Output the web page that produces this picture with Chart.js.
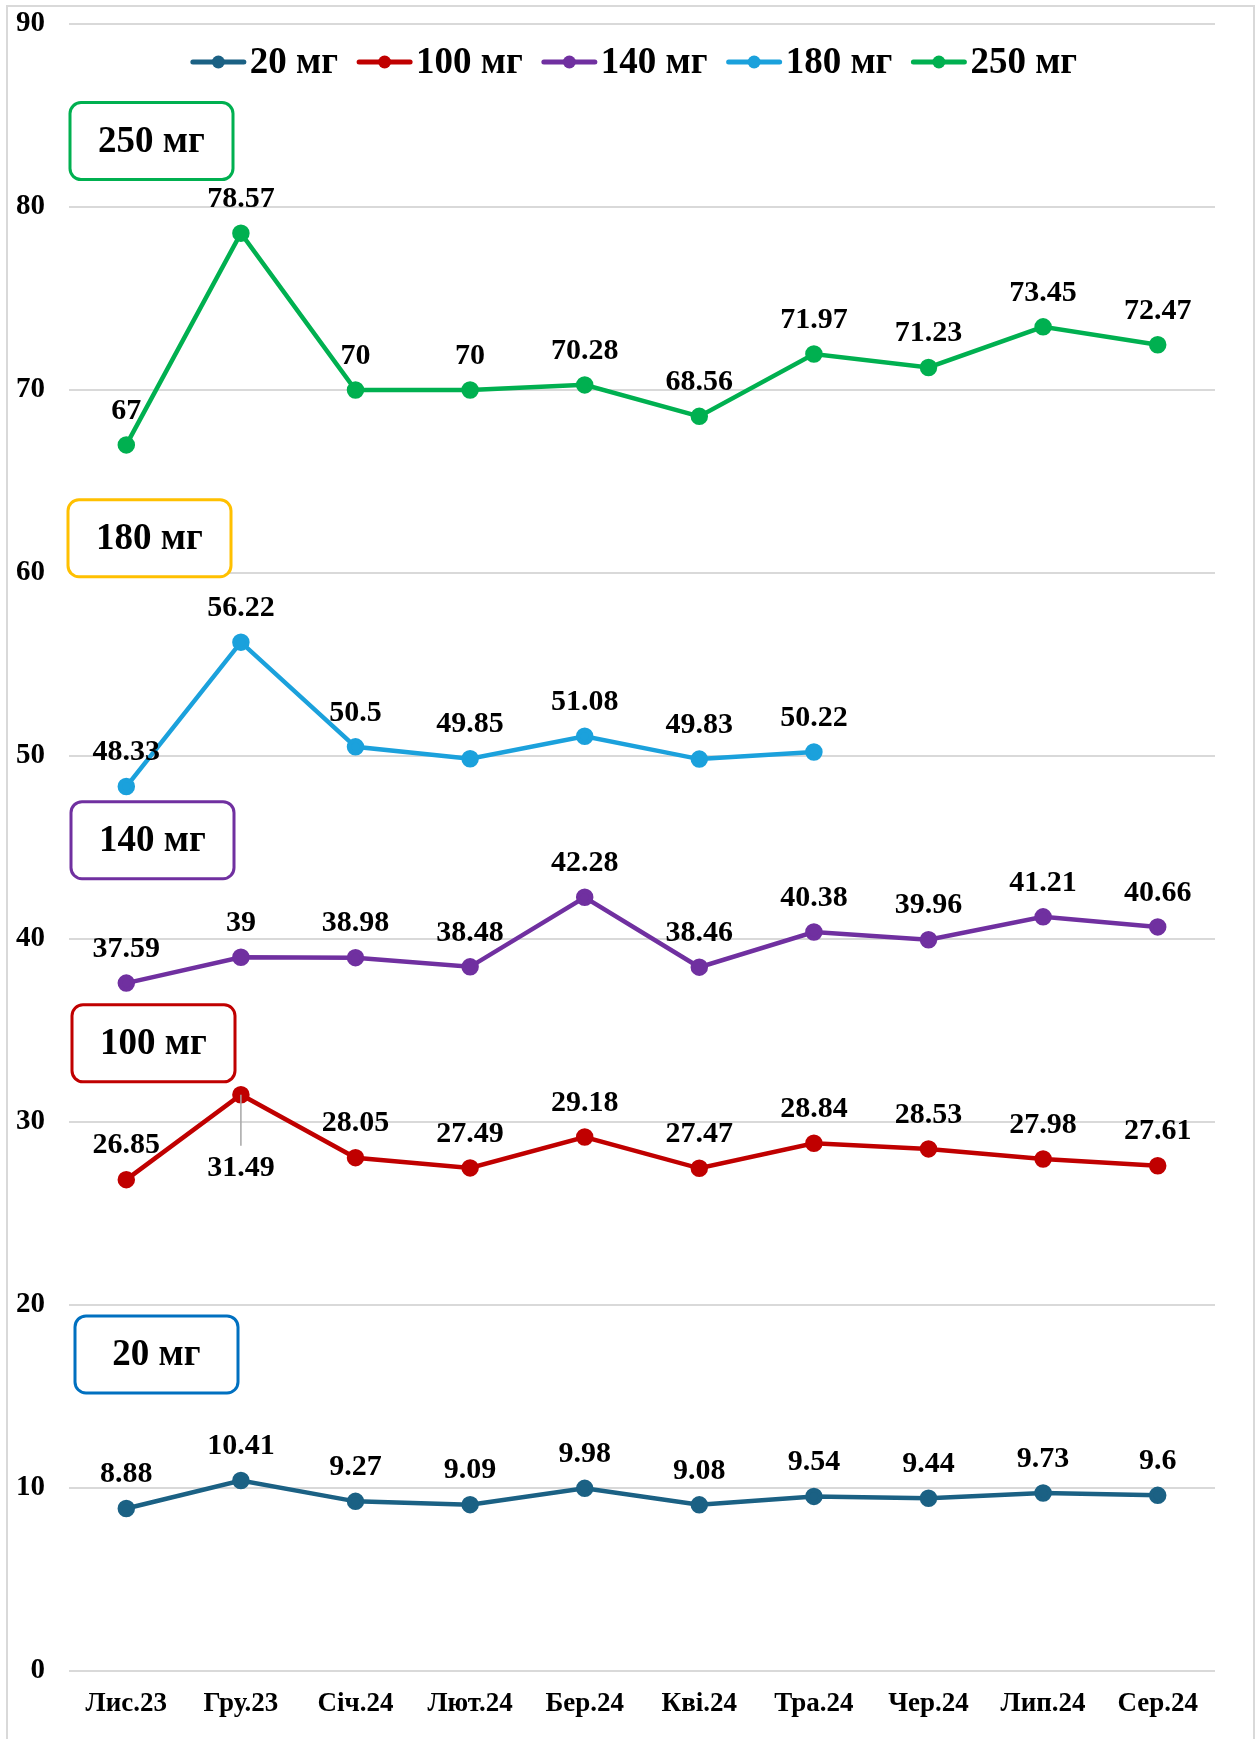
<!DOCTYPE html>
<html>
<head>
<meta charset="utf-8">
<script src="https://cdn.jsdelivr.net/npm/chart.js@4.4.1/dist/chart.umd.min.js"></script>
<style>
  html, body { margin: 0; padding: 0; background: #fff; }
  #wrap { position: relative; width: 1259px; height: 1739px; }
</style>
</head>
<body>
<div id="wrap"><canvas id="chart" width="1259" height="1739"></canvas></div>
<script>
// Дані
const months = ['Лис.23', 'Гру.23', 'Січ.24', 'Лют.24', 'Бер.24', 'Кві.24', 'Тра.24', 'Чер.24', 'Лип.24', 'Сер.24'];
const dose20  = [8.88, 10.41, 9.27, 9.09, 9.98, 9.08, 9.54, 9.44, 9.73, 9.6];
const dose100 = [26.85, 31.49, 28.05, 27.49, 29.18, 27.47, 28.84, 28.53, 27.98, 27.61];
const dose140 = [37.59, 39, 38.98, 38.48, 42.28, 38.46, 40.38, 39.96, 41.21, 40.66];
const dose180 = [48.33, 56.22, 50.5, 49.85, 51.08, 49.83, 50.22, null, null, null];
const dose250 = [67, 78.57, 70, 70, 70.28, 68.56, 71.97, 71.23, 73.45, 72.47];
const yTicks = [0, 10, 20, 30, 40, 50, 60, 70, 80, 90];

const FONT = '"Liberation Serif", "Times New Roman", serif';

// Підписи-рамки зліва (центр по осі Y у значеннях шкали)
const boxes = [
    { text: '250 мг', color: '#00B050', y: 83.6, dx: 0 },
    { text: '180 мг', color: '#FFC000', y: 61.9, dx: -2 },
    { text: '140 мг', color: '#7030A0', y: 45.4, dx: 1 },
    { text: '100 мг', color: '#C00000', y: 34.3, dx: 2 },
    { text: '20 мг',  color: '#0070C0', y: 17.3, dx: 5 }
];

// підписи, що стоять під точкою (з виносною лінією)
const labelsBelow = { '100 мг': [1] };

function series(label, data, color) {
    return {
        label: label,
        data: data,
        borderColor: color,
        backgroundColor: color,
        pointBackgroundColor: color,
        pointBorderColor: color,
        borderWidth: 4.5,
        pointRadius: 6.5,
        pointHoverRadius: 6.5,
        tension: 0,
        spanGaps: false
    };
}

const framePlugin = {
    id: 'frame',
    beforeDraw(chart) {
        const ctx = chart.ctx;
        ctx.save();
        ctx.strokeStyle = '#d9d9d9';
        ctx.lineWidth = 2;
        ctx.strokeRect(7, 6, 1247, 1780);
        ctx.restore();
    }
};

const valueLabels = {
    id: 'valueLabels',
    afterDatasetsDraw(chart) {
        const ctx = chart.ctx;
        ctx.save();
        ctx.font = 'bold 30px ' + FONT;
        ctx.fillStyle = '#000';
        ctx.textAlign = 'center';
        ctx.textBaseline = 'middle';
        chart.data.datasets.forEach((ds, di) => {
            const meta = chart.getDatasetMeta(di);
            const below = labelsBelow[ds.label] || [];
            meta.data.forEach((pt, i) => {
                const v = ds.data[i];
                if (v === null || v === undefined) return;
                if (below.includes(i)) {
                    ctx.strokeStyle = '#a6a6a6';
                    ctx.lineWidth = 1.5;
                    ctx.beginPath();
                    ctx.moveTo(pt.x, pt.y);
                    ctx.lineTo(pt.x, pt.y + 51);
                    ctx.stroke();
                    ctx.fillText(String(v), pt.x, pt.y + 74);
                } else {
                    ctx.fillText(String(v), pt.x, pt.y - 34);
                }
            });
        });
        ctx.restore();
    }
};

const boxLabels = {
    id: 'boxLabels',
    afterDraw(chart) {
        const ctx = chart.ctx;
        const yScale = chart.scales.y;
        const left = chart.chartArea.left;
        ctx.save();
        boxes.forEach(b => {
            const cy = yScale.getPixelForValue(b.y);
            const w = 163, h = 77;
            const x = left + 1 + b.dx;
            const y = cy - h / 2;
            ctx.beginPath();
            ctx.roundRect(x, y, w, h, 11);
            ctx.fillStyle = '#fff';
            ctx.fill();
            ctx.lineWidth = 3;
            ctx.strokeStyle = b.color;
            ctx.stroke();
            ctx.fillStyle = '#000';
            ctx.font = 'bold 37px ' + FONT;
            ctx.textAlign = 'center';
            ctx.textBaseline = 'middle';
            ctx.fillText(b.text, x + w / 2, cy + 1);
        });
        ctx.restore();
    }
};

const lineLegend = {
    id: 'lineLegend',
    afterDraw(chart) {
        const ctx = chart.ctx;
        const area = chart.chartArea;
        const sampleW = 55, gap = 4, itemGap = 19;
        ctx.save();
        ctx.font = 'bold 37px ' + FONT;
        const items = chart.data.datasets.map(ds => ({
            label: ds.label,
            color: ds.borderColor,
            tw: ctx.measureText(ds.label).width
        }));
        let total = 0;
        items.forEach((it, i) => {
            total += sampleW + gap + it.tw + (i < items.length - 1 ? itemGap : 0);
        });
        let x = (area.left + area.right) / 2 - 8 - total / 2;
        const y = 62;
        items.forEach(it => {
            ctx.strokeStyle = it.color;
            ctx.lineWidth = 5;
            ctx.lineCap = 'round';
            ctx.beginPath();
            ctx.moveTo(x + 2, y);
            ctx.lineTo(x + sampleW - 2, y);
            ctx.stroke();
            ctx.fillStyle = it.color;
            ctx.beginPath();
            ctx.arc(x + sampleW / 2, y, 6.5, 0, Math.PI * 2);
            ctx.fill();
            ctx.fillStyle = '#000';
            ctx.textAlign = 'left';
            ctx.textBaseline = 'middle';
            ctx.fillText(it.label, x + sampleW + gap, y + 1);
            x += sampleW + gap + it.tw + itemGap;
        });
        ctx.restore();
    }
};

const ctx = document.getElementById('chart').getContext('2d');
new Chart(ctx, {
    type: 'line',
    data: {
        labels: months,
        datasets: [
            series('20 мг', dose20, '#1B6184'),
            series('100 мг', dose100, '#C00000'),
            series('140 мг', dose140, '#7030A0'),
            series('180 мг', dose180, '#1BA1DC'),
            series('250 мг', dose250, '#00B050')
        ]
    },
    options: {
        responsive: false,
        animation: false,
        devicePixelRatio: 1,
        layout: {
            padding: { top: 24, right: 44, bottom: 0, left: 0 }
        },
        plugins: {
            legend: { display: false },
            tooltip: { enabled: false }
        },
        scales: {
            x: {
                offset: true,
                grid: { display: false, drawTicks: false },
                border: { display: false },
                ticks: {
                    color: '#000',
                    padding: 17,
                    maxRotation: 0,
                    autoSkip: false,
                    font: { family: FONT, size: 27, weight: 'bold' }
                },
                afterFit(scale) { scale.height = 68; }
            },
            y: {
                min: 0,
                max: 90,
                afterBuildTicks(scale) {
                    scale.ticks = yTicks.map(v => ({ value: v }));
                },
                grid: {
                    color: '#d9d9d9',
                    lineWidth: 2,
                    drawTicks: true,
                    tickLength: 24,
                    tickColor: 'rgba(0,0,0,0)'
                },
                border: { display: false },
                ticks: {
                    color: '#000',
                    padding: 0,
                    font: { family: FONT, size: 29, weight: 'bold' }
                },
                afterFit(scale) { scale.width = 69; }
            }
        }
    },
    plugins: [framePlugin, valueLabels, boxLabels, lineLegend]
});
</script>
</body>
</html>
